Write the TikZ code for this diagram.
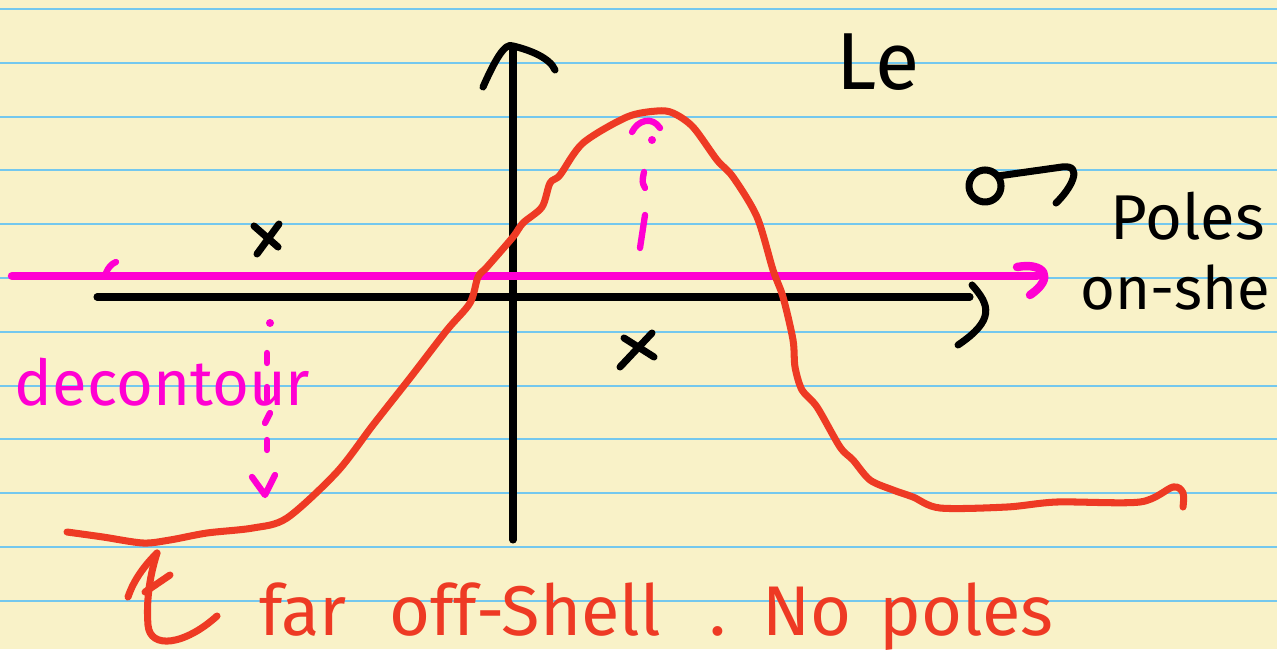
\documentclass[tikz,border=0pt]{standalone}
\usepackage{fontspec}
\setmainfont{Fira Sans}
\definecolor{Paper}{HTML}{F9F2C8}
\definecolor{Rule}{HTML}{74C8EE}
\definecolor{Ink}{HTML}{000000}
\definecolor{Pen}{HTML}{EE3A24}
\definecolor{Hot}{HTML}{FF00D2}
\tikzset{
    ruleline/.style={Rule, line width=0.6pt},
    axisline/.style={Ink, line width=2pt, line cap=round, line join=round},
    contour/.style={Hot, line width=2.4pt, line cap=round, line join=round},
    hint/.style={Hot, line width=1.8pt, line cap=round, line join=round},
    curve/.style={Pen, line width=2pt, line cap=round, line join=round},
    inklabel/.style={Ink, inner sep=0pt, anchor=base west, font=\fontsize{18}{20}\selectfont},
    hotlabel/.style={Hot, inner sep=0pt, anchor=base west, font=\fontsize{18}{20}\selectfont},
    penlabel/.style={Pen, inner sep=0pt, anchor=base west, font=\fontsize{20}{22}\selectfont},
}

\begin{document}
\begin{tikzpicture}[x=0.01cm, y=-0.01cm]
    % Foglio a righe
    \fill[Paper] (0,0) rectangle (1277,649);
    \useasboundingbox (0,0) rectangle (1277,649);
    \foreach \k in {0,...,11}
        \draw[ruleline] (0,{9+53.8*\k}) -- (1277,{9+53.8*\k});

    % Assi
    \coordinate (xs) at (97,297);
    \coordinate (xe) at (970,297);
    \coordinate (ys) at (513,540);
    \coordinate (ye) at (513,48);
    \draw[axisline] (xs) -- (xe);
    \draw[axisline] (972,285) .. controls (990,305) and (995,320) .. (958,345);
    \draw[axisline] (ys) -- (ye);
    \draw[axisline] (483,87) .. controls (495,60) and (505,42) .. (513,46)
                    .. controls (530,50) and (550,58) .. (555,70);

    % Poli
    \draw[axisline] (254,226) -- (278,247);
    \draw[axisline] (279,224) -- (257,254);
    \draw[axisline] (624,338) -- (654,357);
    \draw[axisline] (652,333) -- (620,367);

    % Contorno
    \coordinate (cs) at (12,276);
    \coordinate (ce) at (1037,276);
    \draw[contour] (cs) -- (ce);
    \draw[contour] (1017,267) .. controls (1045,262) and (1055,278) .. (1030,295);
    \draw[hint] (106,273) .. controls (108,268) and (111,264) .. (116,262);

    % Curva
    \draw[curve] plot[smooth, tension=0.5] coordinates {
        (67,532) (103,537) (143,543) (170,540) (207,533) (253,528) (287,518)
        (337,472) (373,425) (410,378) (447,330) (470,303) (478,277) (487,267)
        (513,237) (523,223) (542,207) (550,183) (560,175) (583,143) (627,117)
        (657,111) (673,113) (693,127) (717,160) (733,177) (757,217) (773,270)
        (783,297) (793,340) (795,367) (802,390) (817,407) (840,447) (853,460)
        (870,480) (893,490) (913,497) (940,508) (1007,507) (1057,502)
        (1140,502) (1173,487) (1183,493) (1183,507)};

    % Frecce tratteggiate
    \draw[hint] (640,248) -- (645,215);
    \draw[hint] (645,188) .. controls (642,182) .. (644,172);
    \fill[Hot] (652,140) circle (4);
    \draw[hint] (632,132) .. controls (638,120) and (652,116) .. (660,128);
    \fill[Hot] (270,323) circle (4);
    \draw[hint] (267,353) -- (267,363);
    \draw[hint] (267,387) -- (267,400);
    \draw[hint] (270,413) -- (265,423);
    \draw[hint] (267,440) -- (267,450);
    \draw[hint] (252,477) -- (265,495) -- (275,475);

    % Freccia rossa
    \draw[curve] (217,616) .. controls (185,645) and (150,650) .. (148,625)
                 .. controls (146,600) and (150,575) .. (157,553);
    \draw[curve] (157,553) .. controls (140,570) and (132,585) .. (128,597);
    \draw[curve] (170,575) -- (145,592);

    % Sigma
    \draw[axisline] (985,186) circle (16);
    \draw[axisline] (998,176) -- (1062,167) .. controls (1085,164) and (1070,190) .. (1056,203);

    % Testi
    \node[inklabel, font=\fontsize{23}{25}\selectfont] (le) at (836,90) {Le};
    \node[inklabel] (poles) at (1110,240) {Poles};
    \node[inklabel, font=\fontsize{17}{19}\selectfont] (onshell) at (1080,310) {on-she};
    \node[hotlabel] (decon) at (14,405) {decontour};
    \node[penlabel] (far) at (259,635)
        {far\hspace{12pt}off-Shell\hspace{14pt}.\hspace{10pt}No\hspace{8pt}poles};
\end{tikzpicture}
\end{document}
